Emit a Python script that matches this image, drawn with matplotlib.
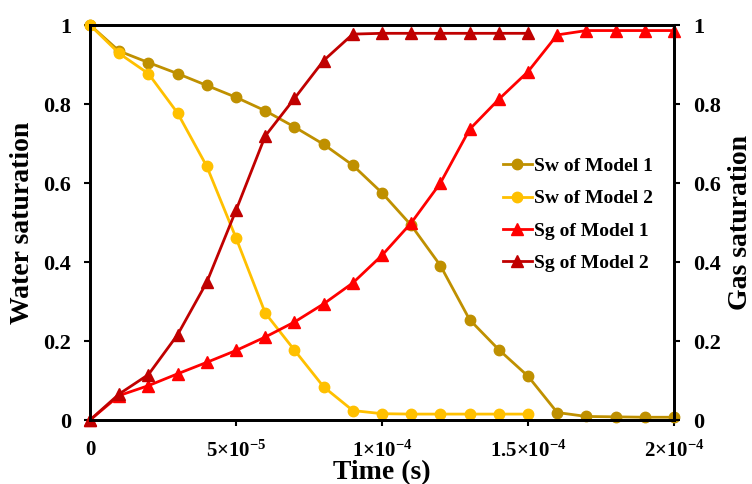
import matplotlib
matplotlib.use("Agg")
import matplotlib.pyplot as plt
from matplotlib.ticker import FixedLocator, FixedFormatter

plt.rcParams['font.family'] = ['Liberation Serif', 'DejaVu Serif']
plt.rcParams['font.weight'] = 'bold'
plt.rcParams['mathtext.fontset'] = 'custom'
plt.rcParams['mathtext.rm'] = 'Liberation Serif:bold'
plt.rcParams['mathtext.bf'] = 'Liberation Serif:bold'
plt.rcParams['mathtext.it'] = 'Liberation Serif:bold:italic'

# time steps (s)
time = [0, 1e-5, 2e-5, 3e-5, 4e-5, 5e-5, 6e-5, 7e-5, 8e-5, 9e-5, 1e-4,
        1.1e-4, 1.2e-4, 1.3e-4, 1.4e-4, 1.5e-4, 1.6e-4, 1.7e-4, 1.8e-4, 1.9e-4, 2e-4]
time_m2 = time[:16]

sw_model1 = [1.0, 0.934, 0.905, 0.877, 0.847, 0.817, 0.783, 0.742, 0.698, 0.645, 0.575,
             0.493, 0.391, 0.254, 0.178, 0.111, 0.019, 0.009, 0.008, 0.007, 0.007]
sw_model2 = [1.0, 0.928, 0.877, 0.777, 0.642, 0.461, 0.271, 0.177, 0.084, 0.024, 0.016,
             0.015, 0.015, 0.015, 0.015, 0.015]
sg_model1 = [0.0, 0.062, 0.087, 0.117, 0.146, 0.176, 0.210, 0.248, 0.294, 0.347, 0.417,
             0.499, 0.600, 0.736, 0.812, 0.882, 0.975, 0.986, 0.986, 0.986, 0.986]
sg_model2 = [0.0, 0.066, 0.115, 0.216, 0.349, 0.531, 0.719, 0.814, 0.910, 0.977, 0.979,
             0.979, 0.979, 0.979, 0.979, 0.979]

xticks = [0, 5e-5, 1e-4, 1.5e-4, 2e-4]
xtick_labels = ['0', r'$5{\times}10^{-5}$', r'$1{\times}10^{-4}$',
                r'$1.5{\times}10^{-4}$', r'$2{\times}10^{-4}$']
yticks = [0, 0.2, 0.4, 0.6, 0.8, 1]
ytick_labels = ['0', '0.2', '0.4', '0.6', '0.8', '1']

fig = plt.figure(figsize=(7.52, 4.84), dpi=100)
ax = fig.add_axes([0.1197, 0.1322, 0.7766, 0.8161])
ax2 = ax.twinx()

l1, = ax.plot(time, sw_model1, color='#BF9000', lw=2, marker='o', ms=7.5,
              clip_on=False, label='Sw of Model 1')
l2, = ax.plot(time_m2, sw_model2, color='#FFC000', lw=2, marker='o', ms=7.5,
              clip_on=False, label='Sw of Model 2')
l3, = ax2.plot(time, sg_model1, color='#FF0000', lw=2, marker='^', ms=9,
               clip_on=False, label='Sg of Model 1')
l4, = ax2.plot(time_m2, sg_model2, color='#C00000', lw=2, marker='^', ms=9,
               clip_on=False, label='Sg of Model 2')

for a in (ax, ax2):
    a.set_xlim(0, 2e-4)
    a.set_ylim(0, 1)
    a.yaxis.set_major_locator(FixedLocator(yticks))
    a.yaxis.set_major_formatter(FixedFormatter(ytick_labels))
    for s in a.spines.values():
        s.set_linewidth(2)
        s.set_color('black')
    a.tick_params(axis='both', direction='out', length=4.5, width=1.5,
                  labelsize=16, pad=9)

ax.xaxis.set_major_locator(FixedLocator(xticks))
ax.xaxis.set_major_formatter(FixedFormatter(xtick_labels))
ax.tick_params(axis='x', pad=10, labelsize=15)

ax.set_xlabel('Time (s)', fontsize=20, fontweight='bold', labelpad=-1)
ax.set_ylabel('Water saturation', fontsize=20, fontweight='bold', labelpad=6)
ax2.set_ylabel('Gas saturation', fontsize=20, fontweight='bold', labelpad=5)

leg = ax2.legend(handles=[l1, l2, l3, l4], loc='center left',
                 bbox_to_anchor=(0.69, 0.52), frameon=False, fontsize=14,
                 handlelength=1.5, handletextpad=0.1, labelspacing=0.75,
                 borderpad=0)

fig.savefig('out.png', dpi=100)
